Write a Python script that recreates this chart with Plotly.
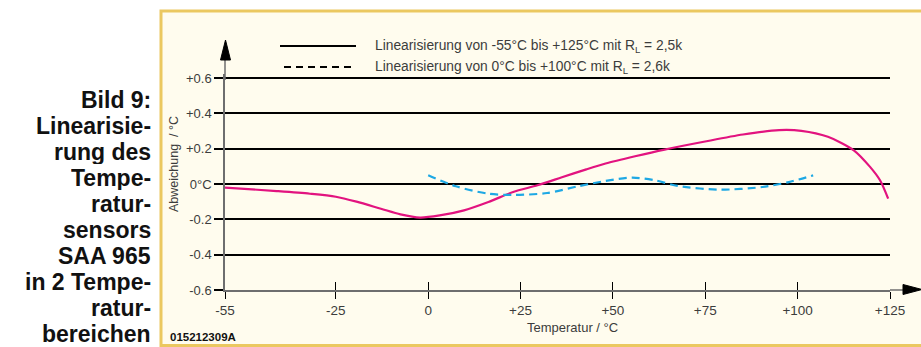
import plotly.graph_objects as go

# Deviation curves (temperature in °C, deviation in °C)
temp_wide = [-55, -41, -32, -25, -19.4, -12.8, -7.5, -2.2, 3.1, 9.7, 16.3, 23, 29.6,
             36.2, 42.8, 48, 56, 64, 74.6, 85.2, 95, 101, 108.2, 115.2, 119.6, 122.3, 124.5]
dev_wide = [-0.02, -0.04, -0.055, -0.072, -0.10, -0.14, -0.172, -0.19, -0.178, -0.149,
            -0.102, -0.045, -0.007, 0.038, 0.083, 0.116, 0.157, 0.195, 0.239, 0.28,
            0.305, 0.301, 0.267, 0.191, 0.097, 0.021, -0.083]

temp_narrow = [0, 7.5, 16.3, 23.4, 32.2, 41, 48, 55.2, 61.4, 67.5, 79, 90.5, 97.6, 104.2]
dev_narrow = [0.049, -0.013, -0.055, -0.062, -0.051, -0.011, 0.017, 0.036, 0.021,
              -0.011, -0.032, -0.017, 0.011, 0.049]

x_ticks = [-55, -25, 0, 25, 50, 75, 100, 125]
x_ticktext = ["-55", "-25", "0", "+25", "+50", "+75", "+100", "+125"]
y_ticks = [-0.6, -0.4, -0.2, 0, 0.2, 0.4, 0.6]
y_ticktext = ["-0.6", "-0.4", "-0.2", "0°C", "+0.2", "+0.4", "+0.6"]

legend_labels = [
    "Linearisierung von -55°C bis +125°C mit R<sub>L</sub> = 2,5k",
    "Linearisierung von 0°C bis +100°C mit R<sub>L</sub> = 2,6k",
]

side_caption = ["Bild 9:", "Linearisie-", "rung des", "Tempe-", "ratur-", "sensors",
                "SAA 965", "in 2 Tempe-", "ratur-", "bereichen"]

FONT = "Liberation Sans, Arial, Helvetica, sans-serif"
MAGENTA = "#e2137f"
CYAN = "#1ea8e4"
AXIS_GREY = "#6e6e6e"
TEXT_GREY = "#3c3c3c"

W, H = 921, 347
# the plot area reaches a few pixels above +0.6 so its gridline is not clipped
L, R, T, B = 225, 31, 74, 57
pw, ph = W - L - R, H - T - B
Y_TOP = 0.6 + 1.2 * 4 / 212


def px(xp):
    return (xp - L) / pw


def py(yp):
    return (H - B - yp) / ph


fig = go.Figure()

fig.add_trace(go.Scatter(x=temp_wide, y=dev_wide, mode="lines",
                         line=dict(color=MAGENTA, width=2.2, shape="spline", smoothing=0.8),
                         showlegend=False, hoverinfo="skip"))
fig.add_trace(go.Scatter(x=temp_narrow, y=dev_narrow, mode="lines",
                         line=dict(color=CYAN, width=2.2, dash="8px,5px", shape="spline",
                                   smoothing=0.8),
                         showlegend=False, hoverinfo="skip"))
# invisible trace so the overlay axis (upward tick marks) is rendered
fig.add_trace(go.Scatter(x=[x_ticks[0]], y=[0], xaxis="x2", mode="markers",
                         marker=dict(opacity=0), showlegend=False, hoverinfo="skip"))

shapes = []
# cream panel with golden border
shapes.append(dict(type="rect", xref="paper", yref="paper",
                   x0=px(161), x1=px(930), y0=py(345.5), y1=py(11),
                   fillcolor="#fffcee", line=dict(color="#ebc860", width=3), layer="below"))
# axis extensions and arrowheads
shapes.append(dict(type="line", xref="paper", yref="paper", x0=0, x1=0,
                   y0=py(80), y1=py(58), line=dict(color=AXIS_GREY, width=1.5)))
shapes.append(dict(type="path", xref="paper", yref="paper",
                   path=f"M {px(220.5)},{py(60)} L {px(225.5)},{py(40)} L {px(230.5)},{py(60)} Z",
                   fillcolor="black", line=dict(color="black", width=1)))
shapes.append(dict(type="line", xref="paper", yref="paper", x0=1, x1=px(905),
                   y0=0, y1=0, line=dict(color=AXIS_GREY, width=1.5)))
shapes.append(dict(type="path", xref="paper", yref="paper",
                   path=f"M {px(903)},{py(284.5)} L {px(922)},{py(289.5)} L {px(903)},{py(294.5)} Z",
                   fillcolor="black", line=dict(color="black", width=1)))
# legend samples
shapes.append(dict(type="line", xref="paper", yref="paper", x0=px(280), x1=px(356),
                   y0=py(46), y1=py(46), line=dict(color="black", width=2)))
shapes.append(dict(type="line", xref="paper", yref="paper", x0=px(284), x1=px(356),
                   y0=py(67), y1=py(67), line=dict(color="black", width=2, dash="7px,5px")))

annotations = []
for i, lab in enumerate(legend_labels):
    annotations.append(dict(xref="paper", yref="paper", x=px(373), y=py(46 + 21 * i),
                            xanchor="left", yanchor="middle", showarrow=False, text=lab,
                            font=dict(family=FONT, size=13.8, color=TEXT_GREY)))
for i, line in enumerate(side_caption):
    annotations.append(dict(xref="paper", yref="paper", x=px(153), y=py(99.5 + 26.1 * i),
                            xanchor="right", yanchor="middle", showarrow=False,
                            text=f"<b>{line}</b>", height=24,
                            font=dict(family=FONT, size=23, color="#111111")))
annotations.append(dict(xref="paper", yref="paper", x=px(174), y=py(164), textangle=-90,
                        xanchor="center", yanchor="middle", showarrow=False,
                        text="Abweichung\u00a0\u00a0/ °C",
                        font=dict(family=FONT, size=12.5, color=TEXT_GREY)))
annotations.append(dict(xref="paper", yref="paper", x=px(572), y=py(327),
                        xanchor="center", yanchor="middle", showarrow=False,
                        text="Temperatur / °C",
                        font=dict(family=FONT, size=13, color=TEXT_GREY)))
annotations.append(dict(xref="paper", yref="paper", x=px(168), y=py(337),
                        xanchor="left", yanchor="middle", showarrow=False,
                        text="<b>015212309A</b>",
                        font=dict(family=FONT, size=11.5, color="#111111")))

fig.update_layout(
    width=W, height=H,
    margin=dict(l=L, r=R, t=T, b=B, pad=0),
    paper_bgcolor="white", plot_bgcolor="rgba(0,0,0,0)",
    showlegend=False,
    shapes=shapes, annotations=annotations,
    xaxis=dict(range=[-55, 125], tickvals=x_ticks, ticktext=x_ticktext,
               showgrid=False, zeroline=False, showline=True, linecolor=AXIS_GREY,
               linewidth=1.5, ticks="outside", ticklen=7, tickwidth=1.3, tickcolor="black",
               tickfont=dict(family=FONT, size=13.5, color=TEXT_GREY), fixedrange=True),
    xaxis2=dict(range=[-55, 125], overlaying="x", side="bottom", anchor="y",
                tickvals=x_ticks, showticklabels=False, showgrid=False, zeroline=False,
                showline=False, ticks="inside", ticklen=8, tickwidth=1.3, tickcolor="black"),
    yaxis=dict(range=[-0.6, Y_TOP], tickvals=y_ticks, ticktext=y_ticktext,
               showgrid=True, gridcolor="black", gridwidth=2, zeroline=False,
               showline=True, linecolor=AXIS_GREY, linewidth=1.5,
               ticks="outside", ticklen=9, tickwidth=2, tickcolor="black",
               tickfont=dict(family=FONT, size=13, color=TEXT_GREY), fixedrange=True),
)

fig.write_html("out.html", config=dict(displayModeBar=False))
